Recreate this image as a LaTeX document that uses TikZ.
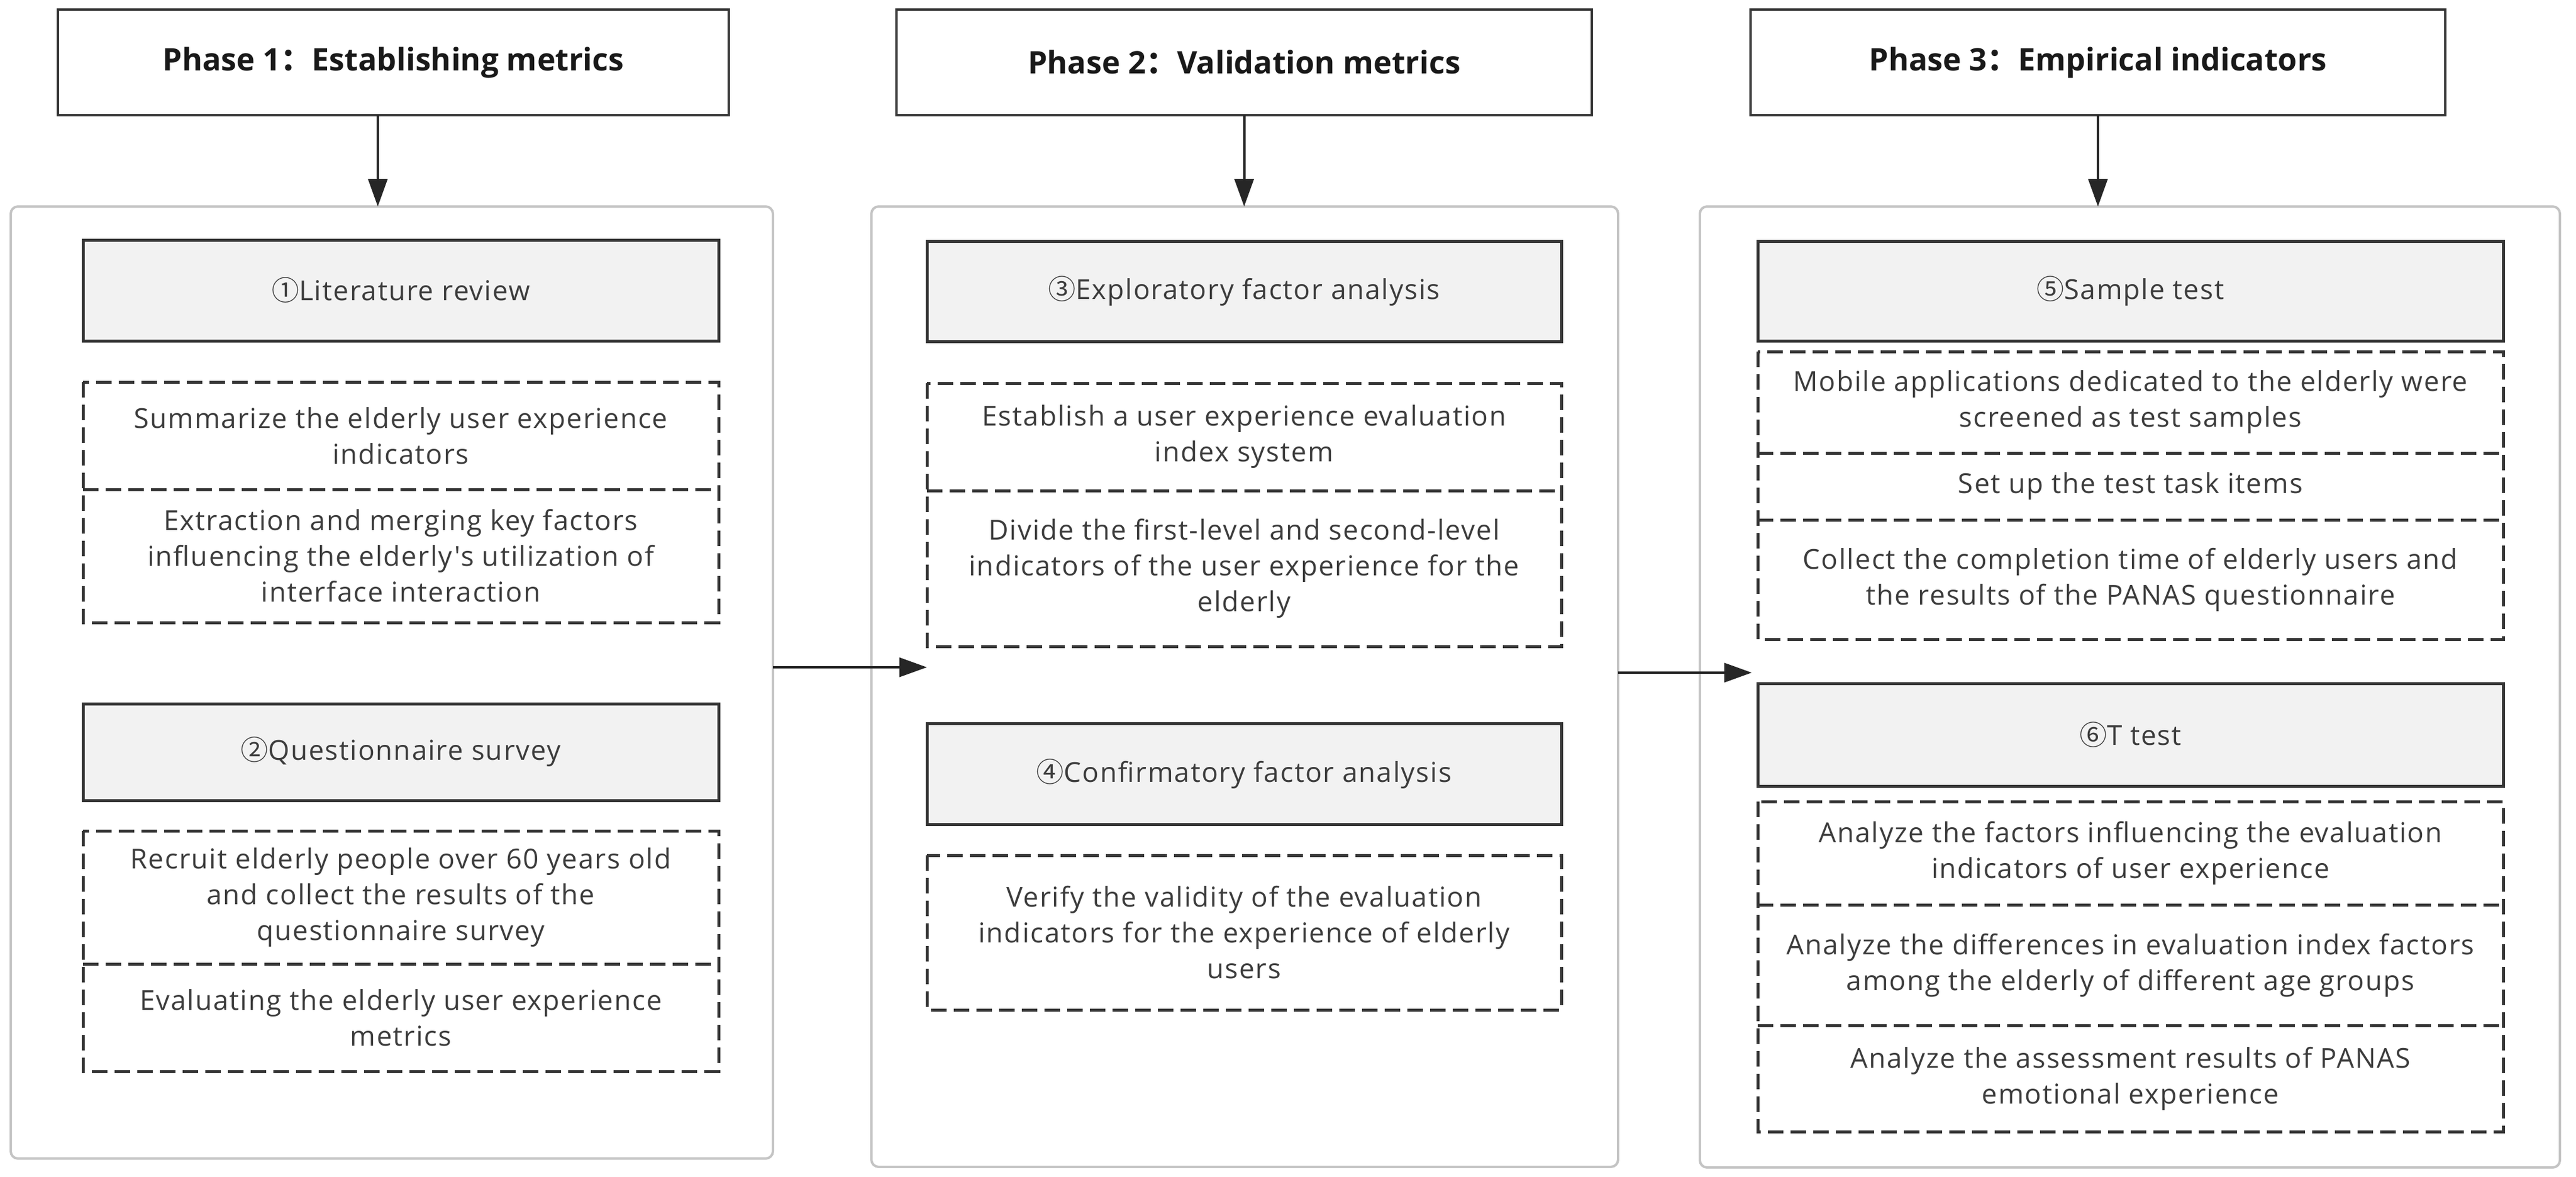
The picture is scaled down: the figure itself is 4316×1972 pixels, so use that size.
\documentclass[tikz,border=0pt]{standalone}
\usepackage{fontspec}
\setmainfont{Open Sans}
\newfontfamily\bodyfont{Open Sans}[LetterSpace=4]
\newfontfamily\cjk{Noto Sans CJK SC}
\usetikzlibrary{arrows.meta}
\definecolor{bordergray}{HTML}{C4C4C4}
\definecolor{darkline}{HTML}{353535}
\definecolor{titlefill}{HTML}{F2F2F2}
\definecolor{bodytext}{HTML}{3C3C3C}
\tikzset{
  phasebox/.style={draw=darkline, line width=4pt, fill=white, inner sep=0pt, outer sep=0pt,
    font=\fontsize{52}{62}\selectfont\bfseries, text=black!90},
  contbox/.style={draw=bordergray, line width=4pt, rounded corners=12pt, inner sep=0pt, outer sep=0pt},
  titlebox/.style={draw=darkline, line width=5pt, fill=titlefill, inner sep=0pt, outer sep=0pt,
    font=\bodyfont\fontsize{46}{60}\selectfont, text=bodytext},
  cellbox/.style={inner sep=0pt, outer sep=0pt, align=center,
    font=\bodyfont\fontsize{46}{60}\selectfont, text=bodytext},
  dsh/.style={draw=darkline, line width=5pt, dash pattern=on 26pt off 12pt},
  arr/.style={draw=black!85, line width=4pt, -{Triangle[length=46pt,width=32pt]}},
}
\begin{document}
\begin{tikzpicture}[x=1pt,y=-1pt]
\useasboundingbox (0,0) rectangle (4316,1972);
\fill[white] (0,0) rectangle (4316,1972);

% phase headers
\node[phasebox, minimum width=1124pt, minimum height=177pt] (p1) at (659,104.5) {Phase 1{\cjk ：}Establishing metrics};
\node[phasebox, minimum width=1165pt, minimum height=177pt] (p2) at (2084.5,104.5) {Phase 2{\cjk ：}Validation metrics};
\node[phasebox, minimum width=1164pt, minimum height=177pt] (p3) at (3515,104.5) {Phase 3{\cjk ：}Empirical indicators};

% containers
\node[contbox, minimum width=1277pt, minimum height=1595pt] (c1) at (656.5,1143.5) {};
\node[contbox, minimum width=1251pt, minimum height=1609pt] (c2) at (2085.5,1150.5) {};
\node[contbox, minimum width=1441pt, minimum height=1610pt] (c3) at (3568.5,1151) {};

% column 1
\node[titlebox, minimum width=1065pt, minimum height=169pt] (t1) at (671.5,486.5) {{\cjk ①}Literature review};
\node[cellbox, minimum width=1065pt, minimum height=180pt] (d11) at (671.5,730) {Summarize the elderly user experience\\indicators};
\node[cellbox, minimum width=1065pt, minimum height=223pt] (d12) at (671.5,931.5) {Extraction and merging key factors\\influencing the elderly's utilization of\\interface interaction};
\node[titlebox, minimum width=1065pt, minimum height=162pt] (t2) at (671.5,1260) {{\cjk ②}Questionnaire survey};
\node[cellbox, minimum width=1065pt, minimum height=223pt] (d21) at (671.5,1503.5) {Recruit elderly people over 60 years old\\and collect the results of the\\questionnaire survey};
\node[cellbox, minimum width=1065pt, minimum height=180pt] (d22) at (671.5,1705) {Evaluating the elderly user experience\\metrics};

% column 2
\node[titlebox, minimum width=1063pt, minimum height=168pt] (t3) at (2084.5,488) {{\cjk ③}Exploratory factor analysis};
\node[cellbox, minimum width=1063pt, minimum height=180pt] (d31) at (2084.5,732) {Establish a user experience evaluation\\index system};
\node[cellbox, minimum width=1063pt, minimum height=261pt] (d32) at (2084.5,952.5) {Divide the first-level and second-level\\indicators of the user experience for the\\elderly};
\node[titlebox, minimum width=1063pt, minimum height=169pt] (t4) at (2084.5,1296.5) {{\cjk ④}Confirmatory factor analysis};
\node[cellbox, minimum width=1063pt, minimum height=259pt] (d41) at (2084.5,1562.5) {Verify the validity of the evaluation\\indicators for the experience of elderly\\users};

% column 3
\node[titlebox, minimum width=1249pt, minimum height=167pt] (t5) at (3569.5,487.5) {{\cjk ⑤}Sample test};
\node[cellbox, minimum width=1249pt, minimum height=170pt] (d51) at (3569.5,674) {Mobile applications dedicated to the elderly were\\screened as test samples};
\node[cellbox, minimum width=1249pt, minimum height=112pt] (d52) at (3569.5,815) {Set up the test task items};
\node[cellbox, minimum width=1249pt, minimum height=200pt] (d53) at (3569.5,971) {Collect the completion time of elderly users and\\the results of the PANAS questionnaire};
\node[titlebox, minimum width=1249pt, minimum height=172pt] (t6) at (3569.5,1231) {{\cjk ⑥}T test};
\node[cellbox, minimum width=1249pt, minimum height=173pt] (d61) at (3569.5,1429.5) {Analyze the factors influencing the evaluation\\indicators of user experience};
\node[cellbox, minimum width=1249pt, minimum height=202pt] (d62) at (3569.5,1617) {Analyze the differences in evaluation index factors\\among the elderly of different age groups};
\node[cellbox, minimum width=1249pt, minimum height=178pt] (d63) at (3569.5,1807) {Analyze the assessment results of PANAS\\emotional experience};

% dashed groups
\draw[dsh] (d11.north west) rectangle (d12.south east);
\draw[dsh] (d11.south west) -- (d11.south east);
\draw[dsh] (d21.north west) rectangle (d22.south east);
\draw[dsh] (d21.south west) -- (d21.south east);
\draw[dsh] (d31.north west) rectangle (d32.south east);
\draw[dsh] (d31.south west) -- (d31.south east);
\draw[dsh] (d41.north west) rectangle (d41.south east);
\draw[dsh] (d51.north west) rectangle (d53.south east);
\draw[dsh] (d51.south west) -- (d51.south east);
\draw[dsh] (d52.south west) -- (d52.south east);
\draw[dsh] (d61.north west) rectangle (d63.south east);
\draw[dsh] (d61.south west) -- (d61.south east);
\draw[dsh] (d62.south west) -- (d62.south east);

% arrows
\draw[arr] ([xshift=-26pt]p1.south) -- ([xshift=-26pt]p1.south |- c1.north);
\draw[arr] (p2.south) -- (p2.south |- c2.north);
\draw[arr] (p3.south) -- (p3.south |- c3.north);
\coordinate (m12) at (0,1118);
\coordinate (m23) at (0,1127);
\draw[arr] (c1.east |- m12) -- (t4.west |- m12);
\draw[arr] (c2.east |- m23) -- ([xshift=-10pt]t6.west |- m23);
\end{tikzpicture}
\end{document}
